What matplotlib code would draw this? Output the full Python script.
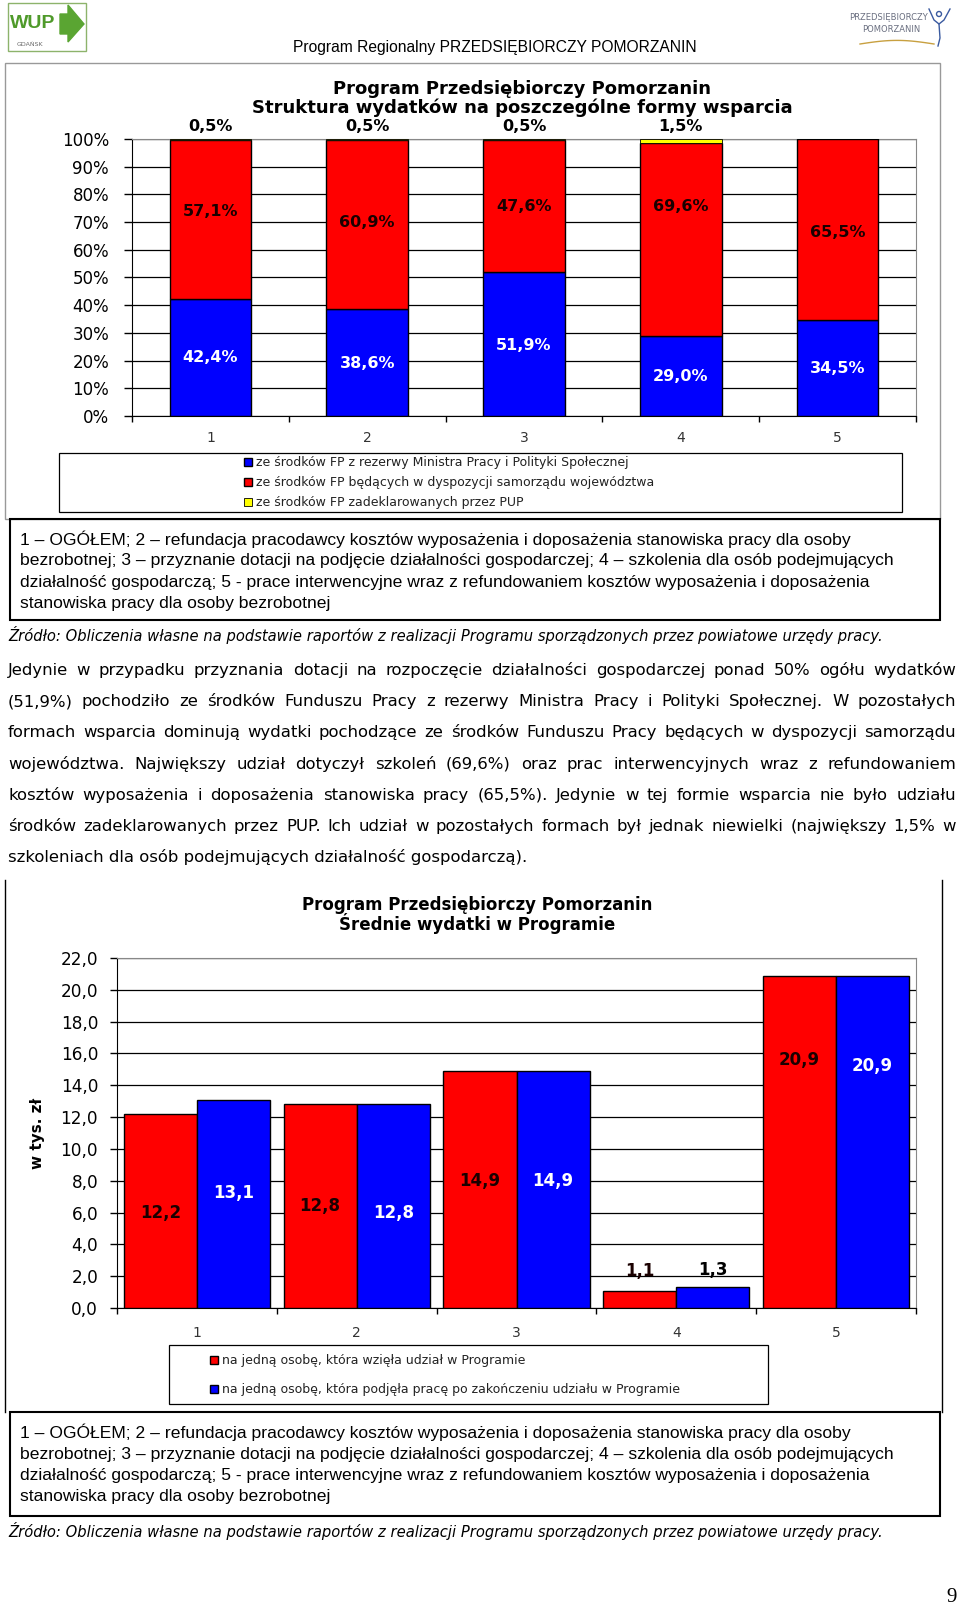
import matplotlib
matplotlib.use('Agg')
import matplotlib.pyplot as plt
from matplotlib.patches import Rectangle, Polygon, Circle
import numpy as np

# ---- data -------------------------------------------------------------
categories = ['1', '2', '3', '4', '5']

# chart 1: structure of expenditure (%)
share_ministry = [42.4, 38.6, 51.9, 29.0, 34.5]
share_region = [57.1, 60.9, 47.6, 69.6, 65.5]
share_pup = [0.5, 0.5, 0.5, 1.5, 0.0]

# chart 2: average expenditure (thousand PLN)
avg_participant = [12.2, 12.8, 14.9, 1.1, 20.9]
avg_employed = [13.1, 12.8, 14.9, 1.3, 20.9]

legend1 = ['ze środków FP z rezerwy Ministra Pracy i Polityki Społecznej',
           'ze środków FP będących w dyspozycji samorządu województwa',
           'ze środków FP zadeklarowanych przez PUP']
legend2 = ['na jedną osobę, która wzięła udział w Programie',
           'na jedną osobę, która podjęła pracę po zakończeniu udziału w Programie']

# label heights as placed in the original (data units)
ministry_label_y = [21.0, 18.8, 25.3, 14.1, 17.0]
region_label_y = [74.0, 69.7, 75.5, 75.5, 66.4]
participant_label_y = [6.0, 6.4, 8.0, 2.3, 15.6]
employed_label_y = [7.2, 6.0, 8.0, 2.4, 15.2]

note_lines = [
    '1 – OGÓŁEM; 2 – refundacja pracodawcy kosztów wyposażenia i doposażenia stanowiska pracy dla osoby',
    'bezrobotnej; 3 – przyznanie dotacji na podjęcie działalności gospodarczej; 4 – szkolenia dla osób podejmujących',
    'działalność gospodarczą; 5 - prace interwencyjne wraz z refundowaniem kosztów wyposażenia i doposażenia',
    'stanowiska pracy dla osoby bezrobotnej',
]
source = ('Źródło: Obliczenia własne na podstawie raportów z realizacji Programu '
          'sporządzonych przez powiatowe urzędy pracy.')
paragraph = [
    'Jedynie w przypadku przyznania dotacji na rozpoczęcie działalności gospodarczej ponad 50% ogółu wydatków',
    '(51,9%) pochodziło ze środków Funduszu Pracy z rezerwy Ministra Pracy i Polityki Społecznej. W pozostałych',
    'formach wsparcia dominują wydatki pochodzące ze środków Funduszu Pracy będących w dyspozycji samorządu',
    'województwa. Największy udział dotyczył szkoleń (69,6%) oraz prac interwencyjnych wraz z refundowaniem',
    'kosztów wyposażenia i doposażenia stanowiska pracy (65,5%). Jedynie w tej formie wsparcia nie było udziału',
    'środków zadeklarowanych przez PUP. Ich udział w pozostałych formach był jednak niewielki (największy 1,5% w',
    'szkoleniach dla osób podejmujących działalność gospodarczą).',
]

RED, BLUE, YELLOW = '#FF0000', '#0000FF', '#FFFF00'

# ---- page -------------------------------------------------------------
W, H = 960, 1607
fig = plt.figure(figsize=(W / 100, H / 100), dpi=100)
page = fig.add_axes([0, 0, 1, 1])
page.set_xlim(0, W)
page.set_ylim(H, 0)
page.axis('off')
renderer = fig.canvas.get_renderer()


def ax_rect(l, t, r, b):
    return [l / W, 1 - b / H, (r - l) / W, (b - t) / H]


def text_width(s, **kw):
    t = page.text(0, 0, s, **kw)
    w = t.get_window_extent(renderer).width
    t.remove()
    return w


def fit_size(s, width, **kw):
    return 10 * width / text_width(s, fontsize=10, **kw)


def justified(lines, x0, x1, y0, step, size, **kw):
    # words share one baseline so that the line stays straight
    shift = 0.36 * size * 100 / 72
    for i, line in enumerate(lines):
        y = y0 + i * step + shift
        if i == len(lines) - 1:
            page.text(x0, y, line, fontsize=size, va='baseline', **kw)
            continue
        words = line.split()
        widths = [text_width(w, fontsize=size, **kw) for w in words]
        gap = (x1 - x0 - sum(widths)) / (len(words) - 1)
        x = x0
        for word, wd in zip(words, widths):
            page.text(x, y, word, fontsize=size, va='baseline', **kw)
            x += wd + gap


def fmt(v, pct=False):
    s = f'{v:.1f}'.replace('.', ',')
    return s + '%' if pct else s


# header + logos
head = 'Program Regionalny PRZEDSIĘBIORCZY POMORZANIN'
page.text(495, 46, head, ha='center', va='center_baseline', family='Liberation Sans',
          fontsize=fit_size(head, 406, family='Liberation Sans'))
page.add_patch(Rectangle((8, 3), 78, 48, fill=False, ec='#8db36b', lw=1))
page.text(10, 23, 'WUP', fontsize=14, weight='bold', color='#4f9a2a', va='center',
          family='Liberation Sans')
page.add_patch(Polygon([(60, 14), (68, 14), (68, 5), (84, 24), (68, 42), (68, 34), (60, 34)],
                       closed=True, color='#5aa532'))
page.text(30, 45, 'GDAŃSK', fontsize=4.5, color='#6a6a6a', va='center', ha='center')
page.text(888, 18, 'PRZEDSIĘBIORCZY', fontsize=6, color='#6a6f80', ha='center', va='center')
page.text(891, 29, 'POMORZANIN', fontsize=6, color='#6a6f80', ha='center', va='center')
page.add_patch(Circle((939, 14), 2.5, fill=False, ec='#3a5aa0', lw=1))
page.plot([929, 934, 939, 944, 950], [9, 20, 24, 20, 9], color='#3a5aa0', lw=1)
page.plot([939, 940, 938], [24, 38, 46], color='#3a5aa0', lw=1)
xs = np.linspace(860, 934, 30)
page.plot(xs, 44 - 6 * np.sin((xs - 860) / 74 * np.pi) * 0.6, color='#c8a040', lw=1)

# ---- chart 1 ----------------------------------------------------------
page.add_patch(Rectangle((5, 63), 935, 456, fill=False, ec='#999999', lw=1))
page.text(522, 89, 'Program Przedsiębiorczy Pomorzanin', ha='center', va='center',
          fontsize=13, weight='bold')
page.text(522, 108, 'Struktura wydatków na poszczególne formy wsparcia', ha='center',
          va='center', fontsize=13, weight='bold')

x = np.arange(1, 6)
ax1 = fig.add_axes(ax_rect(132, 139, 916, 416))
bw = 0.52
b1 = ax1.bar(x, share_ministry, bw, color=BLUE, edgecolor='black', lw=1, zorder=3)
b2 = ax1.bar(x, share_region, bw, bottom=share_ministry, color=RED,
             edgecolor='black', lw=1, zorder=3)
b3 = ax1.bar(x, share_pup, bw, bottom=np.add(share_ministry, share_region), color=YELLOW,
             edgecolor='black', lw=0.6, zorder=3)
ax1.set_xlim(0.5, 5.5)
ax1.set_ylim(0, 100)
ax1.set_yticks(range(0, 101, 10), [f'{v}%' for v in range(0, 101, 10)])
ax1.yaxis.grid(True, color='black', lw=0.9)
ax1.set_axisbelow(True)
ax1.set_xticks(x, categories)
ax1.set_xticks(np.arange(0.5, 6), minor=True)
ax1.tick_params(axis='x', which='major', length=0, pad=11, labelsize=10, labelcolor='#333333')
ax1.tick_params(axis='x', which='minor', length=4, width=1)
ax1.tick_params(axis='y', length=6, width=1, pad=10.5, labelsize=12)
for s in ['top', 'right']:
    ax1.spines[s].set_color('#888888')
for xi, v, ly in zip(x, share_ministry, ministry_label_y):
    ax1.text(xi, ly, fmt(v, True), ha='center', va='center', fontsize=11.5,
             weight='bold', color='white', zorder=4)
for xi, v, ly in zip(x, share_region, region_label_y):
    ax1.text(xi, ly, fmt(v, True), ha='center', va='center', fontsize=11.5,
             weight='bold', color='#1a0000', zorder=4)
for xi, v in zip(x, share_pup):
    if v > 0:
        ax1.text(xi, 104.5, fmt(v, True), ha='center', va='center', fontsize=11.5,
                 weight='bold', color='black', clip_on=False)

page.add_patch(Rectangle((59, 453), 843, 59, fill=False, ec='black', lw=0.9))
fig.legend([b1, b2, b3], legend1, loc='upper left', bbox_to_anchor=(244 / W, 1 - 456 / H),
           frameon=False, fontsize=9, handlelength=0.6, handleheight=0.6,
           handletextpad=0.35, labelspacing=0.56, borderpad=0, borderaxespad=0,
           labelcolor='#222222')

# notes under chart 1
note_size = fit_size(note_lines[0], 830, family='Liberation Sans')
page.add_patch(Rectangle((10, 519), 930, 101, fill=False, ec='black', lw=1.5))
for i, line in enumerate(note_lines):
    page.text(20, 538 + i * 21.3, line, fontsize=note_size, va='center_baseline',
              family='Liberation Sans')
src_size = fit_size(source, 871, style='italic')
page.text(8, 633, source, fontsize=src_size, style='italic', va='center_baseline')

# body paragraph
para_size = fit_size(paragraph[-1], 520)
justified(paragraph, 8, 956, 669, 31.25, para_size)

# ---- chart 2 ----------------------------------------------------------
page.plot([5, 5], [880, 1412], color='black', lw=1)
page.plot([942, 942], [880, 1412], color='black', lw=1)
page.text(477, 905, 'Program Przedsiębiorczy Pomorzanin', ha='center', va='center',
          fontsize=12, weight='bold')
page.text(477, 923, 'Średnie wydatki w Programie', ha='center', va='center',
          fontsize=12, weight='bold')

ax2 = fig.add_axes(ax_rect(117, 958, 916, 1308))
w2 = 0.457
r1 = ax2.bar(x - w2 / 2, avg_participant, w2, color=RED, edgecolor='black', lw=1, zorder=3)
r2 = ax2.bar(x + w2 / 2, avg_employed, w2, color=BLUE, edgecolor='black', lw=1, zorder=3)
ax2.set_xlim(0.5, 5.5)
ax2.set_ylim(0, 22)
yt = np.arange(0, 23, 2)
ax2.set_yticks(yt, [fmt(v) for v in yt])
ax2.yaxis.grid(True, color='black', lw=0.9)
ax2.set_axisbelow(True)
ax2.set_xticks(x, categories)
ax2.set_xticks(np.arange(0.5, 6), minor=True)
ax2.tick_params(axis='x', which='major', length=0, pad=13, labelsize=10, labelcolor='#333333')
ax2.tick_params(axis='x', which='minor', length=4, width=1)
ax2.tick_params(axis='y', length=5, width=1, pad=8.5, labelsize=12.2)
for s in ['top', 'right']:
    ax2.spines[s].set_color('#888888')
ax2.set_ylabel('w tys. zł', fontsize=11, weight='bold')
ax2.yaxis.set_label_coords((45 - 117) / 799, 0.5)
for xi, v, ly in zip(x - w2 / 2, avg_participant, participant_label_y):
    ax2.text(xi, ly, fmt(v), ha='center', va='center', fontsize=12, weight='bold',
             color='#1a0000', zorder=4)
for xi, v, ly in zip(x + w2 / 2, avg_employed, employed_label_y):
    col = 'white' if ly < v else 'black'
    ax2.text(xi, ly, fmt(v), ha='center', va='center', fontsize=12, weight='bold',
             color=col, zorder=4)

page.add_patch(Rectangle((169, 1345), 599, 59, fill=False, ec='black', lw=0.9))
fig.legend([r1, r2], legend2, loc='upper left', bbox_to_anchor=(210 / W, 1 - 1354 / H),
           frameon=False, fontsize=9, handlelength=0.6, handleheight=0.6,
           handletextpad=0.35, labelspacing=1.3, borderpad=0, borderaxespad=0,
           labelcolor='#222222')

page.add_patch(Rectangle((10, 1412), 930, 104, fill=False, ec='black', lw=1.5))
for i, line in enumerate(note_lines):
    page.text(20, 1431 + i * 21.5, line, fontsize=note_size, va='center_baseline',
              family='Liberation Sans')
page.text(8, 1529, source, fontsize=src_size, style='italic', va='center_baseline')

page.text(952, 1595, '9', fontsize=15, family='Liberation Serif', ha='center',
          va='center_baseline')

fig.savefig('out.png', dpi=100)
